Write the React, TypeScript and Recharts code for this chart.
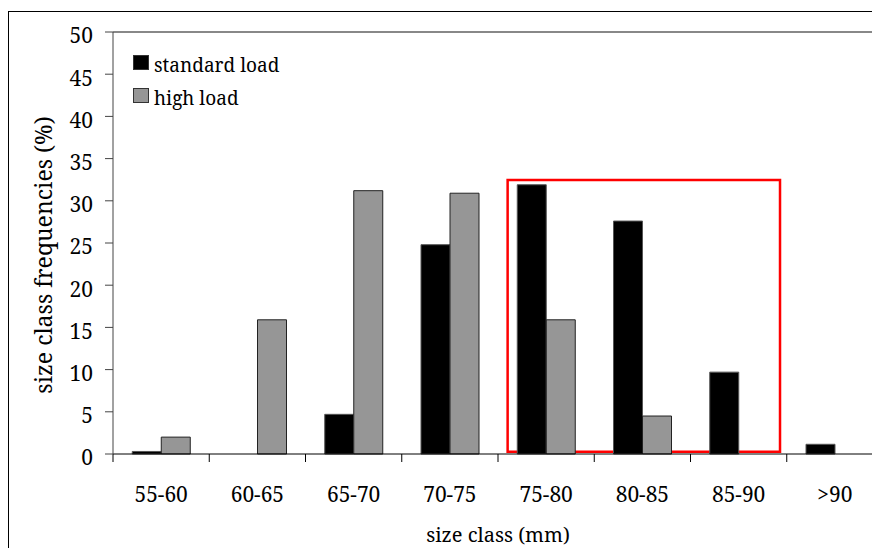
import React from "react"
import { Bar, BarChart, Legend, ReferenceArea, ReferenceLine, XAxis, YAxis } from "recharts"

const sizeClasses = ["55-60", "60-65", "65-70", "70-75", "75-80", "80-85", "85-90", ">90"]
const classMid = [0.5, 1.5, 2.5, 3.5, 4.5, 5.5, 6.5, 7.5]
const standardLoad = [0.3, 0, 4.7, 24.8, 31.9, 27.6, 9.7, 1.15]
const highLoad = [2.0, 15.9, 31.2, 30.9, 15.9, 4.5, 0, 0]
const yTicks = [0, 5, 10, 15, 20, 25, 30, 35, 40, 45, 50]
const classEdges = [0, 1, 2, 3, 4, 5, 6, 7, 8]
const seriesNames = ["standard load", "high load"]
// red highlight box, in class-index / percent units
const highlightX = [4.1, 6.93]
const highlightY = [0.27, 32.45]

const FONT = '"Noto Serif", "DejaVu Serif", serif'

const data = sizeClasses.map((size, i) => ({
  size,
  mid: classMid[i],
  standard: standardLoad[i],
  high: highLoad[i],
}))

function LegendBox({ payload }: any) {
  const items = [...(payload ?? [])].sort(
    (a: any, b: any) => seriesNames.indexOf(a.value) - seriesNames.indexOf(b.value)
  )
  return (
    <div style={{ fontFamily: FONT, fontSize: 19, color: "#000", whiteSpace: "nowrap" }}>
      {items.map((p: any) => (
        <div key={p.value} style={{ display: "flex", height: 33, lineHeight: "33px" }}>
          <span
            style={{
              width: 16,
              height: 15,
              marginTop: 6,
              marginRight: 5,
              boxSizing: "border-box",
              background: p.color,
              border: "1px solid #333",
            }}
          />
          <span>{p.value}</span>
        </div>
      ))}
    </div>
  )
}

function YTitle(props: any) {
  const { x, y, height } = props.viewBox
  const cx = x + 34
  const cy = y + height / 2 + 12
  return (
    <text
      x={cx}
      y={cy}
      transform={`rotate(-90 ${cx} ${cy})`}
      textAnchor="middle"
      dominantBaseline="central"
      fontFamily={FONT}
      fontSize={23}
      fill="#000"
    >
      size class frequencies (%)
    </text>
  )
}

const noLabel = () => <g />

export default function App() {
  return (
    <div
      style={{
        position: "relative",
        top: 3,
        width: 872,
        height: 540,
        boxSizing: "border-box",
        borderLeft: "1px solid #000",
        borderTop: "1px solid #000",
        overflow: "hidden",
        background: "#fff",
      }}
    >
      <BarChart
        width={890}
        height={539}
        data={data}
        margin={{ top: 20, right: 16, left: 0, bottom: 6 }}
        barCategoryGap="20%"
        barGap={0}
      >
        <XAxis
          xAxisId="edges"
          dataKey="mid"
          type="number"
          domain={[0, 8]}
          allowDataOverflow
          ticks={classEdges}
          interval={0}
          height={1}
          tick={noLabel}
          tickSize={8}
          tickLine={{ stroke: "#000" }}
          axisLine={{ stroke: "#000" }}
        />
        <XAxis
          xAxisId="size"
          dataKey="size"
          interval={0}
          height={90}
          axisLine={false}
          tickLine={false}
          tickSize={0}
          tickMargin={32}
          tick={{ fontFamily: FONT, fontSize: 21, fill: "#000" }}
          label={{
            value: "size class (mm)",
            position: "insideBottom",
            offset: 3,
            style: { fontFamily: FONT, fontSize: 20, fill: "#000" },
          }}
        />
        <YAxis
          width={104}
          domain={[0, 50]}
          ticks={yTicks}
          interval={0}
          tickSize={8}
          tickMargin={12}
          axisLine={{ stroke: "#444" }}
          tickLine={{ stroke: "#444" }}
          tick={{ fontFamily: FONT, fontSize: 21, fill: "#000", dy: 4 }}
          label={<YTitle />}
        />
        <ReferenceLine xAxisId="size" y={50} stroke="#888" strokeWidth={2} />
        <Legend
          layout="vertical"
          align="center"
          verticalAlign="middle"
          wrapperStyle={{ left: 124, top: 37, width: "auto", height: "auto" }}
          content={<LegendBox />}
        />
        <Bar xAxisId="size" dataKey="standard" name="standard load" fill="#000" stroke="#555" strokeWidth={1} isAnimationActive={false} />
        <Bar xAxisId="size" dataKey="high" name="high load" fill="#969696" stroke="#222" strokeWidth={1} isAnimationActive={false} />
        <ReferenceArea
          xAxisId="edges"
          x1={highlightX[0]}
          x2={highlightX[1]}
          y1={highlightY[0]}
          y2={highlightY[1]}
          fill="none"
          fillOpacity={0}
          stroke="#ff0000"
          strokeWidth={2.5}
        />
      </BarChart>
    </div>
  )
}
